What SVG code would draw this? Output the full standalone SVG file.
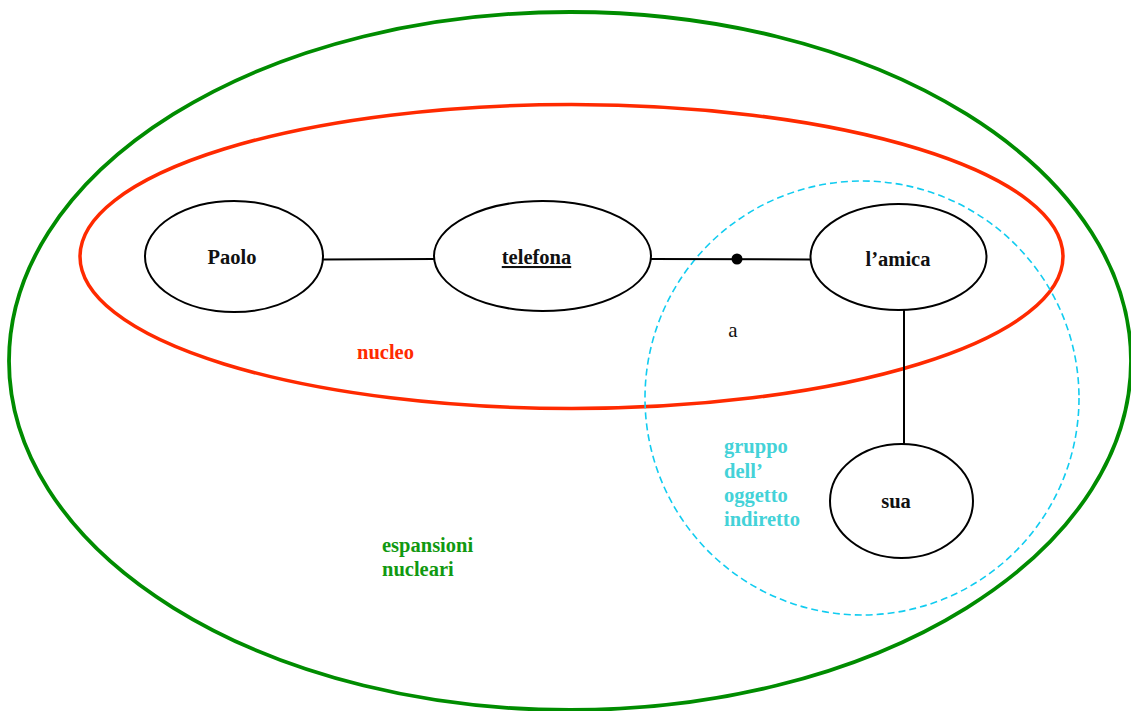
<svg xmlns="http://www.w3.org/2000/svg" width="1131" height="711" viewBox="0 0 1131 711">
<style>
.node{fill:#fff;stroke:#000;stroke-width:2}
.lbl{font-family:"Liberation Serif","Times New Roman",serif;font-weight:bold;font-size:20.5px;fill:#111;text-anchor:middle}
.conn line{stroke:#000;stroke-width:2}
.cap{font-family:"Liberation Serif","Times New Roman",serif;font-weight:bold;font-size:20.5px}
</style>
<rect width="1131" height="711" fill="#fff"/>
<g id="espansioni">
<ellipse cx="570" cy="361" rx="561" ry="349" fill="none" stroke="#008c00" stroke-width="3.8"/>
<text class="cap" fill="#119911" x="382" y="552">espansioni</text>
<text class="cap" fill="#119911" x="382" y="576">nucleari</text>
</g>
<g id="nucleo">
<ellipse cx="571.5" cy="256.5" rx="491.5" ry="152" fill="none" stroke="#ff2a00" stroke-width="3.5"/>
<text class="cap" fill="#ff2a00" x="357" y="359">nucleo</text>
</g>
<g id="gruppo">
<circle cx="862" cy="398" r="217" fill="none" stroke="#11ccf0" stroke-width="1.6" stroke-dasharray="7 4"/>
<text class="cap" fill="#44d2d8" x="724" y="453">gruppo</text>
<text class="cap" fill="#44d2d8" x="724" y="478">dell’</text>
<text class="cap" fill="#44d2d8" x="724" y="502">oggetto</text>
<text class="cap" fill="#44d2d8" x="724" y="526">indiretto</text>
</g>
<g class="conn" id="connectors">
<line x1="323" y1="259.5" x2="434" y2="259"/>
<line x1="651" y1="259" x2="810" y2="259.5"/>
<line x1="904" y1="310" x2="904" y2="445"/>
<circle cx="737" cy="259" r="5.5" fill="#000"/>
<text x="733" y="337" font-family="Liberation Serif,'Times New Roman',serif" font-size="21" text-anchor="middle" fill="#111">a</text>
</g>
<g id="paolo">
<ellipse class="node" cx="234" cy="256.5" rx="89" ry="55.5"/>
<text class="lbl" x="232" y="264">Paolo</text>
</g>
<g id="telefona">
<ellipse class="node" cx="542.5" cy="256" rx="108.5" ry="55"/>
<text class="lbl" x="536.5" y="264" text-decoration="underline">telefona</text>
</g>
<g id="amica">
<ellipse class="node" cx="898.5" cy="257" rx="88" ry="53"/>
<text class="lbl" x="898" y="266">l’amica</text>
</g>
<g id="sua">
<ellipse class="node" cx="901.5" cy="501" rx="71.5" ry="57"/>
<text class="lbl" x="896" y="508">sua</text>
</g>
</svg>
